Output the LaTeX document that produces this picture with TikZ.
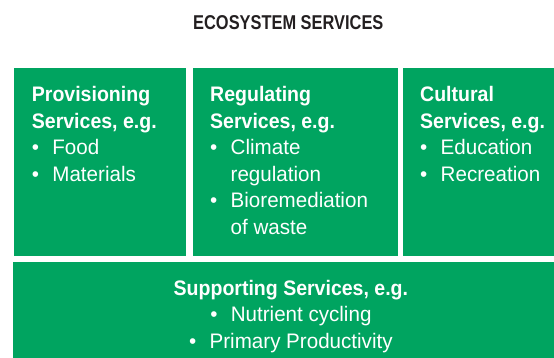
\documentclass[tikz,border=0pt]{standalone}
\usepackage{fontspec}
\setmainfont{Liberation Sans}[FakeStretch=0.98]
\newfontfamily\titrefont{Liberation Sans}[FakeStretch=0.82]
\newfontfamily\entetefont{Liberation Sans}[FakeStretch=0.93]
\definecolor{vert}{RGB}{0,164,96}
\definecolor{noir}{RGB}{35,31,32}
\usetikzlibrary{calc,positioning}
\newcommand{\puce}{\makebox[20.5pt][l]{\textbullet}}
\newcommand{\retrait}{\hspace*{20.5pt}}
\newcommand{\tete}[1]{{\entetefont\bfseries #1}}

\begin{document}
\begin{tikzpicture}[x=1pt,y=-1pt,
		boite/.style={fill=vert,draw=none,inner sep=0,anchor=north west},
		texte/.style={text=white,inner sep=0,anchor=base west,align=left,
			font=\fontsize{21}{26.5}\selectfont}]
	\useasboundingbox (0,0) rectangle (554,358);
	\node[text=noir,inner sep=0,anchor=base,font=\titrefont\bfseries\fontsize{20}{24}\selectfont]
		(titre) at (288.3,29.3) {ECOSYSTEM SERVICES};
	
	\node[boite,minimum width=172,minimum height=188] (prov) at (14,68) {};
	\node[boite,minimum width=205,minimum height=188] (regu) at (193,68) {};
	\node[boite,minimum width=151,minimum height=188] (cult) at (403,68) {};
	\node[boite,minimum width=541,minimum height=96] (supp) at (13,262) {};
	
	\node[texte] (provtxt) at ($(prov.north west)+(17.7,113.2)$)
		{\tete{Provisioning}\\ \tete{Services, e.g.}\\ \puce Food\\ \puce Materials};
	\node[texte] (regutxt) at ($(regu.north west)+(17,166.2)$)
		{\tete{Regulating}\\ \tete{Services, e.g.}\\ \puce Climate\\ \retrait regulation\\
		\puce Bioremediation\\ \retrait of waste};
	\node[texte] (culttxt) at ($(cult.north west)+(17,113.2)$)
		{\tete{Cultural}\\ \tete{Services, e.g.}\\ \puce Education\\ \puce Recreation};
	\node[texte,anchor=base,align=center] (supptxt) at ($(supp.north)+(7.2,86.3)$)
		{\tete{Supporting Services, e.g.}\\ \puce Nutrient cycling\\ \puce Primary Productivity};
\end{tikzpicture}
\end{document}
